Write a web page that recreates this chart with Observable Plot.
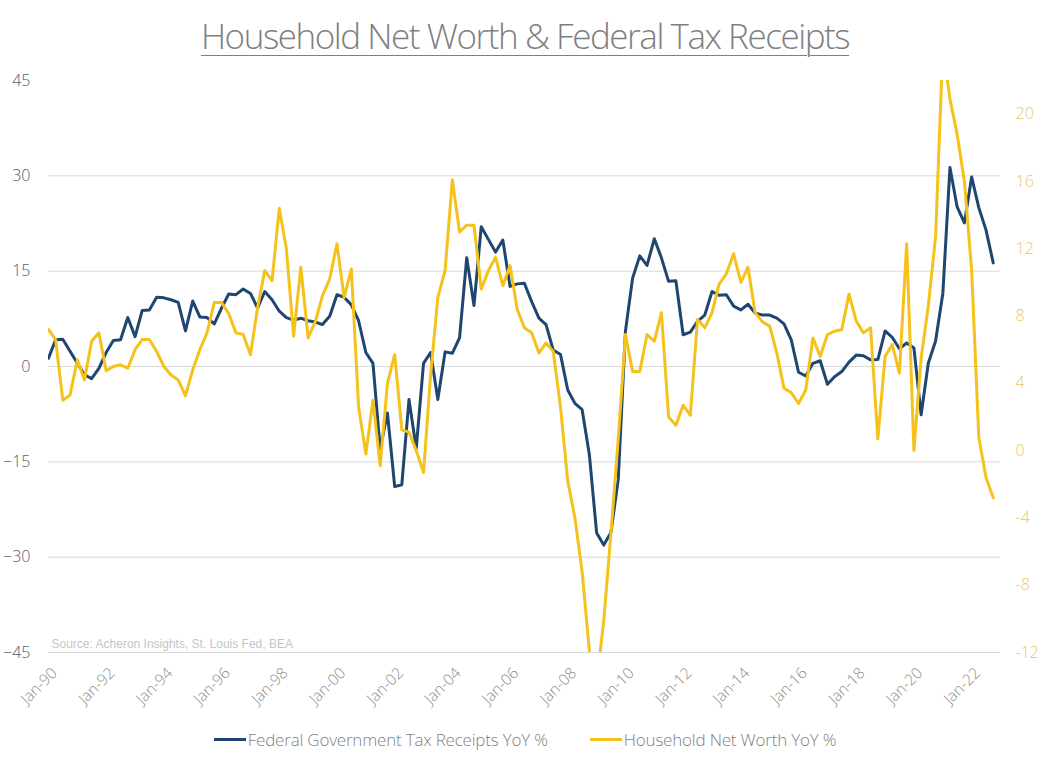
<!DOCTYPE html>
<html>
<head>
<meta charset="utf-8">
<script src="https://cdn.jsdelivr.net/npm/d3@7"></script>
<script src="https://cdn.jsdelivr.net/npm/@observablehq/plot@0.6"></script>
<style>
  html, body { margin: 0; padding: 0; background: #ffffff; }
  body { width: 1050px; height: 768px; position: relative; overflow: hidden; font-family: "Open Sans", "Noto Sans", sans-serif; }
  #title { position: absolute; top: 14px; left: 0; width: 1050px; text-align: center; font-size: 35px; font-weight: 300; color: #7f7f7f; letter-spacing: -1.45px; text-decoration: underline; text-decoration-thickness: 1px; text-underline-offset: 6px; line-height: 44px; }
  #chart { position: absolute; top: 70px; left: 0; }
  #legend { position: absolute; top: 728px; left: 0; width: 1050px; display: flex; justify-content: center; align-items: center; font-size: 17px; font-weight: 300; color: #7f7f7f; letter-spacing: -0.2px; }
  .item { display: flex; align-items: center; margin: 0 21px; }
  .sw { display: inline-block; width: 32px; height: 3px; margin-right: 2px; }
</style>
</head>
<body>
<div id="title">Household Net Worth &amp; Federal Tax Receipts</div>
<div id="chart"></div>
<div id="legend"></div>
<script>
// ---- Data (quarterly, 1990 Q1 .. 2022 Q4) ----
const startYear = 1990;
const seriesNames = ["Federal Government Tax Receipts YoY %", "Household Net Worth YoY %"];
const seriesColors = ["#1f4670", "#f5c21b"];

// Federal Government Tax Receipts YoY % (left axis)
const taxYoY = [
  1.3, 4.2, 4.3, 2.4, 0.5, -1.3, -1.9, -0.3, 2.2, 4.1, 4.2, 7.7, 4.7, 8.8, 8.9, 10.9,
  10.8, 10.5, 10.1, 5.6, 10.3, 7.8, 7.7, 6.7, 9.2, 11.4, 11.3, 12.2, 11.5, 9.2, 11.8, 10.5,
  8.7, 7.7, 7.3, 7.6, 7.2, 7.0, 6.6, 7.9, 11.3, 10.9, 9.7, 7.2, 2.2, 0.5, -13.0, -7.3,
  -18.9, -18.6, -5.2, -12.9, 0.5, 2.2, -5.2, 2.3, 2.1, 4.5, 17.1, 9.6, 22.0, 20.0, 18.0, 19.9,
  12.6, 13.0, 13.1, 10.2, 7.6, 6.6, 2.6, 1.9, -3.7, -5.8, -6.8, -13.9, -26.2, -28.1, -26.1, -17.8,
  5.6, 13.9, 17.4, 15.9, 20.1, 17.1, 13.4, 13.5, 5.0, 5.4, 7.1, 8.1, 11.8, 11.2, 11.3, 9.5,
  8.9, 9.8, 8.4, 8.1, 8.1, 7.6, 6.7, 4.2, -0.9, -1.5, 0.5, 0.9, -2.8, -1.6, -0.8, 0.7,
  1.8, 1.7, 1.05, 1.1, 5.6, 4.6, 2.8, 3.7, 2.9, -7.6, 0.5, 4.0, 11.5, 31.3, 25.1, 22.6,
  29.8, 25.0, 21.5, 16.3
];

// Household Net Worth YoY % (right axis)
const netWorthYoY = [
  7.2, 6.6, 3.0, 3.3, 5.4, 4.2, 6.5, 7.0, 4.75, 5.0, 5.1, 4.9, 6.0, 6.6, 6.6, 5.9,
  5.0, 4.5, 4.2, 3.25, 4.8, 6.0, 7.0, 8.8, 8.8, 8.15, 7.0, 6.9, 5.7, 8.5, 10.7, 10.1,
  14.4, 12.0, 6.8, 10.9, 6.7, 7.65, 9.2, 10.2, 12.3, 9.1, 10.8, 2.6, -0.2, 3.0, -0.9, 4.0,
  5.7, 1.24, 1.1, 0.0, -1.3, 4.5, 9.1, 10.7, 16.1, 13.0, 13.4, 13.4, 9.6, 10.7, 11.5, 9.8,
  11.0, 8.4, 7.3, 7.0, 5.8, 6.4, 5.9, 2.6, -1.8, -4.0, -7.2, -11.9, -13.8, -10.1, -4.9, 0.7,
  6.9, 4.7, 4.7, 6.9, 6.5, 8.2, 2.0, 1.5, 2.7, 2.1, 7.8, 7.3, 8.2, 9.9, 10.5, 11.7,
  10.0, 10.9, 8.2, 7.65, 7.4, 5.8, 3.7, 3.45, 2.8, 3.6, 6.7, 5.6, 6.9, 7.1, 7.2, 9.3,
  7.7, 7.0, 7.3, 0.7, 5.6, 6.3, 4.6, 12.3, 0.0, 5.5, 8.6, 12.7, 24.0, 20.9, 18.8, 16.0,
  10.7, 0.8, -1.6, -2.8
];

const leftTicks = [-45, -30, -15, 0, 15, 30, 45];
const gridValues = [-45, -30, -15, 0, 15, 30];
const rightTicks = [-12, -8, -4, 0, 4, 8, 12, 16, 20];
const leftDomain = [-45, 45];
const rightDomain = [-12, 22];
const xTickYears = [1990, 1992, 1994, 1996, 1998, 2000, 2002, 2004, 2006, 2008, 2010, 2012, 2014, 2016, 2018, 2020, 2022];
const sourceText = "Source: Acheron Insights, St. Louis Fed, BEA";

// ---- Build table ----
const quarterDate = i => new Date(Date.UTC(startYear, 3 * i, 1));
const data = taxYoY.map((t, i) => ({date: quarterDate(i), tax: t, nw: netWorthYoY[i]}));

// map right-axis values into left-axis units (dual axis)
const k = (leftDomain[1] - leftDomain[0]) / (rightDomain[1] - rightDomain[0]);
const toLeft = w => leftDomain[0] + (w - rightDomain[0]) * k;
const fromLeft = v => rightDomain[0] + (v - leftDomain[0]) / k;

const axisFont = "'Open Sans', 'Noto Sans', sans-serif";

const chart = Plot.plot({
  width: 1050,
  height: 660,
  marginTop: 10,
  marginLeft: 48,
  marginRight: 50,
  marginBottom: 78,
  style: {fontFamily: axisFont, background: "#ffffff", overflow: "visible"},
  x: {type: "utc", domain: [new Date(Date.UTC(1990, 0, 1)), new Date(Date.UTC(2023, 0, 1))]},
  y: {domain: leftDomain},
  marks: [
    Plot.ruleY(gridValues, {stroke: "#d9d9d9", strokeWidth: 1}),
    Plot.axisY(leftTicks, {anchor: "left", tickSize: 0, tickPadding: 18, fontSize: 16, fontWeight: 300, color: "#4d5e73", label: null}),
    Plot.axisY(rightTicks.map(toLeft), {anchor: "right", tickSize: 0, tickPadding: 15, fontSize: 16, fontWeight: 300, color: "#e6c965", label: null,
      tickFormat: v => String(Math.round(fromLeft(v)))}),
    Plot.axisX(xTickYears.map(y => new Date(Date.UTC(y, 0, 1))), {anchor: "bottom", tickSize: 0, tickPadding: 10, tickRotate: -45, fontSize: 15.5, fontWeight: 300, color: "#8c8c8c", label: null,
      dx: 6, dy: 8, tickFormat: d3.utcFormat("%b-%y")}),
    Plot.text([sourceText], {frameAnchor: "bottom-left", dx: 3, dy: -5, lineAnchor: "bottom", textAnchor: "start", fontSize: 12, fill: "#c4c4c4", fontFamily: "'Liberation Sans', Arial, sans-serif"}),
    Plot.line(data, {x: "date", y: "tax", stroke: seriesColors[0], strokeWidth: 3, clip: true}),
    Plot.line(data, {x: "date", y: d => toLeft(d.nw), stroke: seriesColors[1], strokeWidth: 3, clip: true})
  ]
});
document.getElementById("chart").appendChild(chart);

// ---- Legend ----
const legend = document.getElementById("legend");
seriesNames.forEach((name, i) => {
  const item = document.createElement("div");
  item.className = "item";
  const sw = document.createElement("span");
  sw.className = "sw";
  sw.style.background = seriesColors[i];
  const label = document.createElement("span");
  label.textContent = name;
  item.appendChild(sw);
  item.appendChild(label);
  legend.appendChild(item);
});
</script>
</body>
</html>
